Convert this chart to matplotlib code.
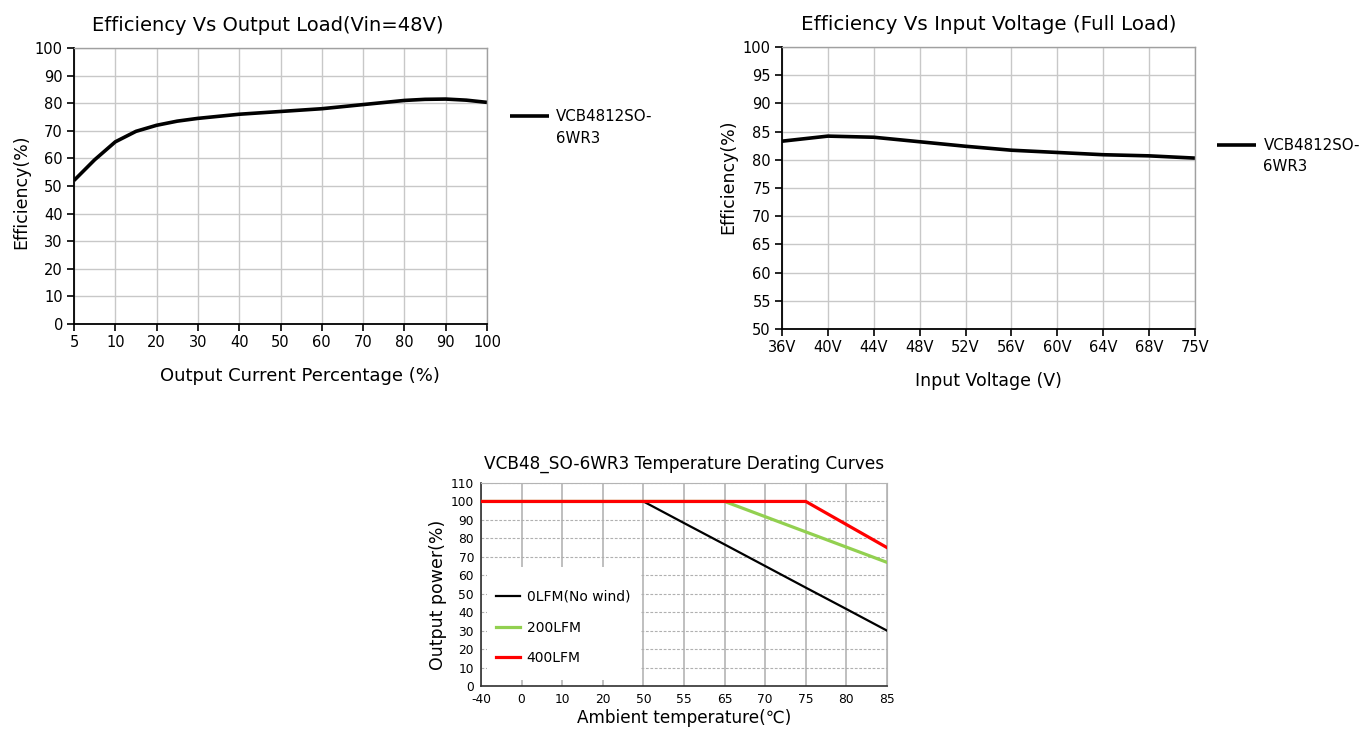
import matplotlib
matplotlib.use("Agg")
import matplotlib.pyplot as plt
from matplotlib.lines import Line2D
from matplotlib.patches import Rectangle
import numpy as np

plt.rcParams['font.family'] = ['DejaVu Sans']

# ---- Data: Efficiency vs output load ----
load_ticks = [5, 10, 20, 30, 40, 50, 60, 70, 80, 90, 100]
load_pct = [5, 7.5, 10, 15, 20, 25, 30, 40, 50, 60, 70, 80, 85, 90, 95, 100]
eff_load = [52, 59.5, 66, 69.8, 72, 73.5, 74.5, 76, 77, 78, 79.5, 81, 81.4, 81.5, 81.1, 80.3]

# ---- Data: Efficiency vs input voltage ----
vin_labels = ['36V', '40V', '44V', '48V', '52V', '56V', '60V', '64V', '68V', '75V']
eff_vin = [83.3, 84.2, 84.0, 83.2, 82.4, 81.7, 81.3, 80.9, 80.7, 80.3]

# ---- Data: Temperature derating ----
temp_labels = ['-40', '0', '10', '20', '50', '55', '65', '70', '75', '80', '85']
p_0lfm = [100, 100, 100, 100, 100, 88.3, 76.7, 65, 53.3, 41.7, 30]
p_200lfm = [100, 100, 100, 100, 100, 100, 100, 91.75, 83.5, 75.25, 67]
p_400lfm = [100, 100, 100, 100, 100, 100, 100, 100, 100, 87.5, 75]

series_line1 = 'VCB4812SO-'
series_line2 = '6WR3'

fig = plt.figure(figsize=(13.68, 7.35), dpi=100)
W, H = 1368, 735

def ax_at(l, t, r, b):
    return fig.add_axes([l / W, 1 - b / H, (r - l) / W, (b - t) / H])

def style_top(ax):
    ax.grid(True, color='#c8c8c8', lw=1.0)
    ax.set_axisbelow(True)
    for s in ['top', 'right']:
        ax.spines[s].set_color('#a0a0a0')
        ax.spines[s].set_linewidth(1.0)
    for s in ['left', 'bottom']:
        ax.spines[s].set_color('black')
        ax.spines[s].set_linewidth(1.3)
    ax.tick_params(direction='out', length=5, width=1.2, labelsize=10.5, pad=3)

def two_line_legend(ax, line, anchor):
    blank = Line2D([], [], color='none')
    ax.legend(handles=[line, blank], labels=[series_line1, series_line2],
              loc='upper left', bbox_to_anchor=anchor, frameon=False, fontsize=10.8,
              handlelength=2.6, handletextpad=0.5, borderpad=0, borderaxespad=0,
              labelspacing=0.42)

# ---- Top-left ----
ax1 = ax_at(74, 48, 487, 324)
tick_pos = np.arange(len(load_ticks))
xpos = np.interp(load_pct, load_ticks, tick_pos)
l1, = ax1.plot(xpos, eff_load, color='black', lw=2.6, solid_capstyle='butt')
ax1.set_xlim(0, len(load_ticks) - 1)
ax1.set_ylim(0, 100)
ax1.set_xticks(tick_pos)
ax1.set_xticklabels([str(v) for v in load_ticks])
ax1.set_yticks(np.arange(0, 101, 10))
style_top(ax1)
ax1.set_title('Efficiency Vs Output Load(Vin=48V)', fontsize=14, pad=12, x=0.47)
ax1.set_xlabel('Output Current Percentage (%)', fontsize=13, labelpad=12, x=0.548)
ax1.set_ylabel('Efficiency(%)', fontsize=12.5, labelpad=3, y=0.48)
two_line_legend(ax1, l1, (1.055, 0.778))

# ---- Top-right ----
ax2 = ax_at(782, 47, 1195, 329)
vpos = np.arange(len(vin_labels))
l2, = ax2.plot(vpos, eff_vin, color='black', lw=2.6, solid_capstyle='butt')
ax2.set_xlim(0, len(vin_labels) - 1)
ax2.set_ylim(50, 100)
ax2.set_xticks(vpos)
ax2.set_xticklabels(vin_labels)
ax2.set_yticks(np.arange(50, 101, 5))
style_top(ax2)
ax2.set_title('Efficiency Vs Input Voltage (Full Load)', fontsize=14.3, pad=12)
ax2.set_xlabel('Input Voltage (V)', fontsize=12.5, labelpad=12)
ax2.set_ylabel('Efficiency(%)', fontsize=12.5, labelpad=4, y=0.54)
two_line_legend(ax2, l2, (1.053, 0.678))

# ---- Bottom ----
ax3 = ax_at(481, 483, 887, 686)
tpos = np.arange(len(temp_labels))
ax3.plot(tpos, p_0lfm, color='black', lw=1.6, label='0LFM(No wind)', zorder=3)
ax3.plot(tpos, p_200lfm, color='#92d050', lw=2.3, label='200LFM', zorder=3)
ax3.plot(tpos, p_400lfm, color='#ff0000', lw=2.3, label='400LFM', zorder=3)
ax3.set_xlim(0, len(temp_labels) - 1)
ax3.set_ylim(0, 110)
ax3.set_xticks(tpos)
ax3.set_xticklabels(temp_labels)
ax3.set_yticks(np.arange(0, 111, 10))
ax3.xaxis.grid(True, color='#b4b4b4', lw=1.2)
ax3.yaxis.grid(True, color='#b0b0b0', lw=0.8, ls=(0, (2.5, 1.5)))
ax3.set_axisbelow(True)
for s in ['top', 'right']:
    ax3.spines[s].set_color('#b4b4b4')
for s in ['left', 'bottom']:
    ax3.spines[s].set_color('#303030')
    ax3.spines[s].set_linewidth(1.2)
ax3.tick_params(direction='out', length=0, labelsize=8.8, pad=5)
ax3.set_title('VCB48_SO-6WR3 Temperature Derating Curves', fontsize=12.2, pad=10)
ax3.set_xlabel('Ambient temperature(\u2103)', fontsize=12.2, labelpad=2)
ax3.set_ylabel('Output power(%)', fontsize=12.5, labelpad=3, y=0.45)
# white legend panel
ax3.add_patch(Rectangle(((487 - 481) / 406, (686 - 680) / 203),
                        (640 - 487) / 406, (680 - 567) / 203,
                        transform=ax3.transAxes, facecolor='white', edgecolor='none',
                        zorder=1.5))
ax3.legend(loc='upper left', bbox_to_anchor=((496 - 481) / 406, (686 - 590) / 203),
           frameon=False, fontsize=10, handlelength=1.75, handletextpad=0.45,
           labelspacing=1.2, borderpad=0, borderaxespad=0)

fig.savefig('out.png', dpi=100)
